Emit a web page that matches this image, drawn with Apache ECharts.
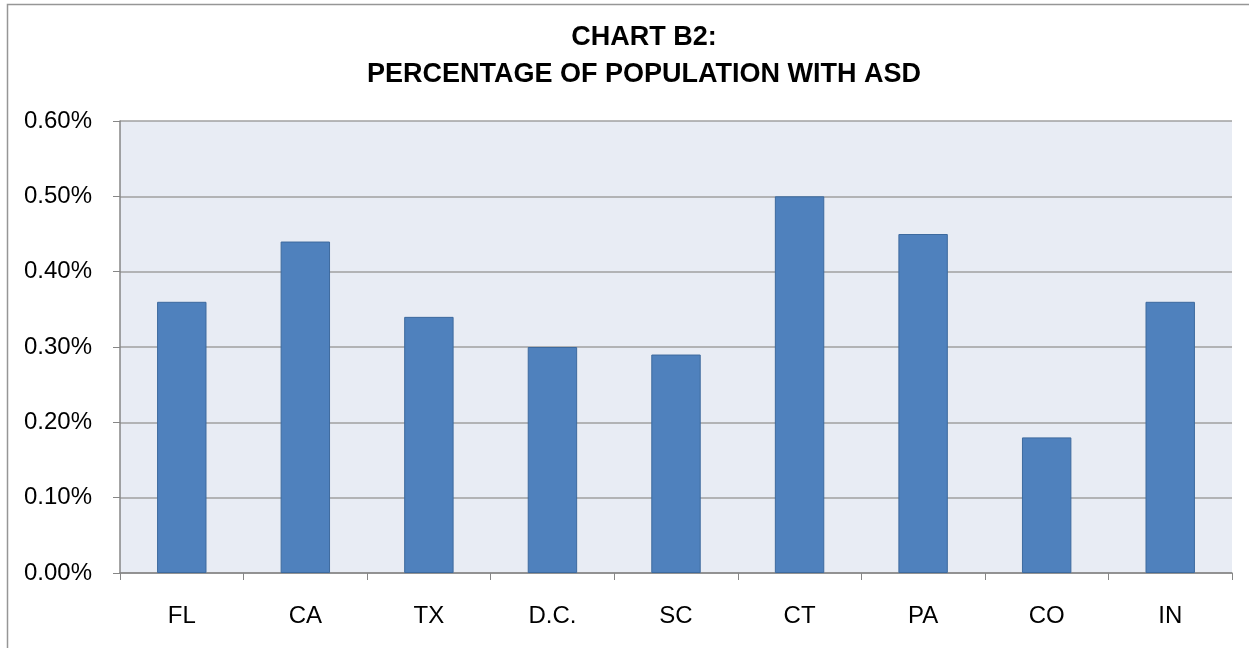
<!DOCTYPE html>
<html>
<head>
<meta charset="utf-8">
<script src="https://cdn.jsdelivr.net/npm/echarts@6/dist/echarts.min.js"></script>
<style>
  html, body { margin: 0; padding: 0; background: #fff; }
  #chart { width: 1249px; height: 648px; }
</style>
</head>
<body>
<div id="chart"></div>
<script>
// states and share of population with ASD (percent)
var states = ['FL', 'CA', 'TX', 'D.C.', 'SC', 'CT', 'PA', 'CO', 'IN']
var asdPct = [0.36, 0.44, 0.34, 0.30, 0.29, 0.50, 0.45, 0.18, 0.36]
var titleLines = ['CHART B2:', 'PERCENTAGE OF POPULATION WITH ASD']

var myChart = echarts.init(document.getElementById('chart'))
var font = 'Liberation Sans, Arial, sans-serif'

var option = {
    animation: false,
    title: {
        text: titleLines.join('\n'),
        // with textAlign center, left is the centre x (a bit right of the canvas middle)
        left: 644,
        top: 19,
        padding: 0,
        textAlign: 'center',
        textStyle: {
            fontFamily: font,
            fontWeight: 'bold',
            fontSize: 27,
            lineHeight: 37,
            color: '#000',
        },
    },
    graphic: [
        {
            type: 'rect',
            silent: true,
            z: -10,
            shape: { x: 7.5, y: 4.5, width: 1400, height: 800 },
            style: { fill: 'none', stroke: '#969696', lineWidth: 1.5 },
        },
    ],
    grid: {
        left: 120,
        right: 17,
        top: 121,
        bottom: 75,
        show: true,
        backgroundColor: '#E8ECF4',
        borderWidth: 0,
    },
    xAxis: {
        type: 'category',
        data: states,
        axisLine: { lineStyle: { color: '#868686', width: 1.5 } },
        axisTick: { show: true, length: 7, lineStyle: { color: '#868686' } },
        axisLabel: {
            fontFamily: font,
            fontSize: 24,
            color: '#000',
            margin: 31,
        },
    },
    yAxis: {
        type: 'value',
        min: 0,
        max: 0.6,
        interval: 0.1,
        axisLine: { show: true, lineStyle: { color: '#868686', width: 1.5 } },
        axisTick: { show: true, length: 7, inside: false, lineStyle: { color: '#868686' } },
        axisLabel: {
            fontFamily: font,
            fontSize: 24,
            color: '#000',
            margin: 28,
            formatter: function (v) { return v.toFixed(2) + '%' },
        },
        splitLine: { lineStyle: { color: '#A0A0A0', width: 1.5 } },
    },
    series: [
        {
            type: 'bar',
            data: asdPct,
            barWidth: '40%',
            itemStyle: {
                color: '#4F81BD',
                borderColor: '#3D6A9E',
                borderWidth: 1,
            },
        },
    ],
}

myChart.setOption(option)
</script>
</body>
</html>
